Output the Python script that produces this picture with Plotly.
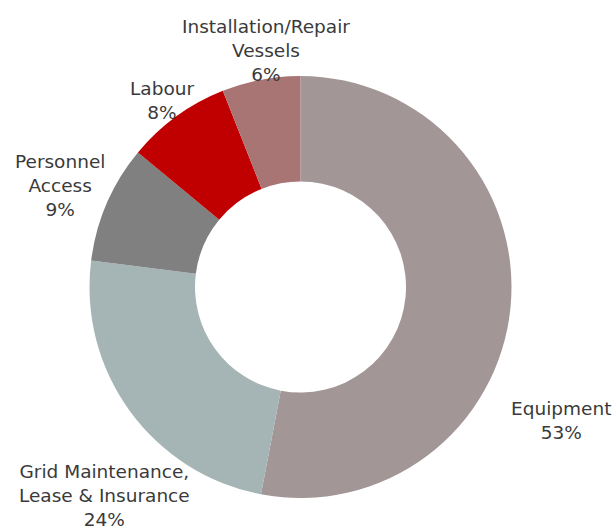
import plotly.graph_objects as go

# Cost breakdown (share of total, %)
categories = [
    "Equipment",
    "Grid Maintenance,<br>Lease & Insurance",
    "Personnel<br>Access",
    "Labour",
    "Installation/Repair<br>Vessels",
]
shares = [53, 24, 9, 8, 6]
colors = ["#a39696", "#a5b4b4", "#808080", "#c00000", "#a97474"]

# Label anchor points in pixels (x, y from top) for the outside labels
label_px = [(561, 420), (104, 495), (60, 185), (162, 100), (266, 50)]

W, H = 612, 529

fig = go.Figure(
    go.Pie(
        labels=categories,
        values=shares,
        marker=dict(colors=colors, line=dict(width=0)),
        hole=0.5,
        sort=False,
        direction="clockwise",
        rotation=0,
        textinfo="none",
        hoverinfo="label+percent",
        showlegend=False,
        domain=dict(x=[89.5 / W, 511.5 / W], y=[31 / H, 453 / H]),
    )
)

for cat, val, (px, py) in zip(categories, shares, label_px):
    fig.add_annotation(
        x=px / W,
        y=1 - py / H,
        xref="paper",
        yref="paper",
        text=f"{cat}<br>{val}%",
        showarrow=False,
        xanchor="center",
        yanchor="middle",
        align="center",
        font=dict(family="DejaVu Sans", size=18.5, color="#3a3a3a"),
    )

fig.update_layout(
    width=W,
    height=H,
    margin=dict(l=0, r=0, t=0, b=0),
    paper_bgcolor="white",
    plot_bgcolor="white",
)

fig.write_html("out.html")
